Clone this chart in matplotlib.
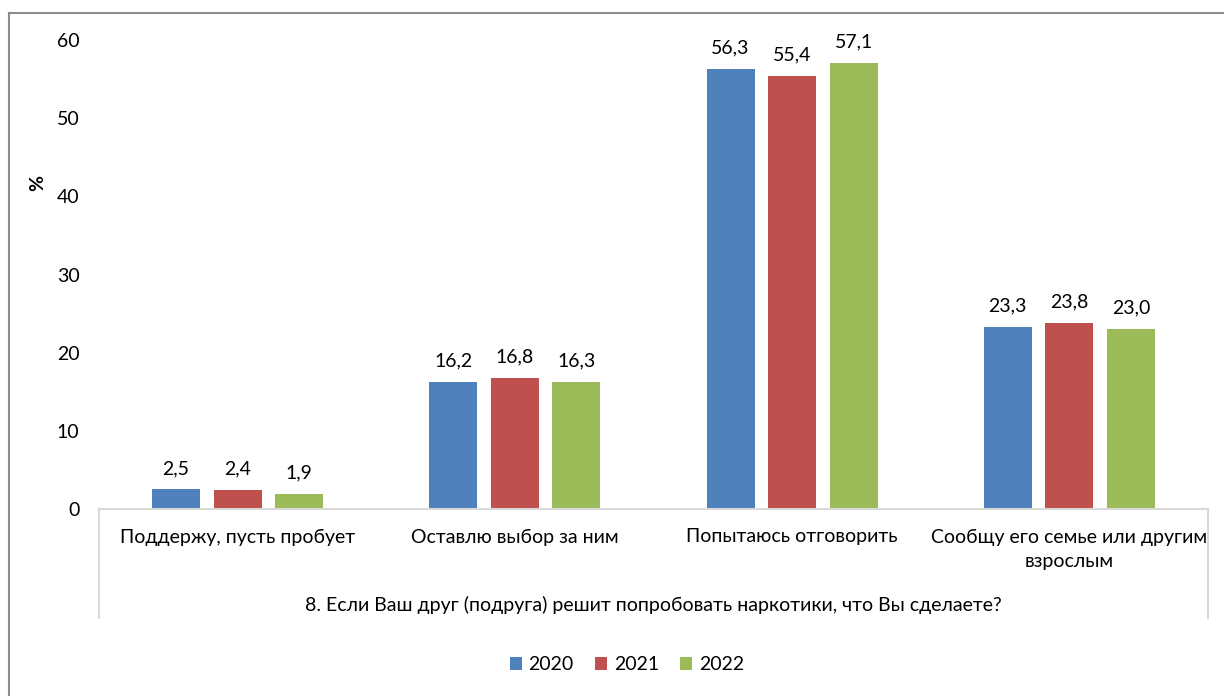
import numpy as np
import matplotlib
matplotlib.use('Agg')
import matplotlib.pyplot as plt
from matplotlib.lines import Line2D

plt.rcParams['font.family'] = ['Lato', 'DejaVu Sans']

# data
categories = ['Поддержу, пусть пробует', 'Оставлю выбор за ним',
              'Попытаюсь отговорить', 'Сообщу его семье или другим\nвзрослым']
years = ['2020', '2021', '2022']
v2020 = [2.5, 16.2, 56.3, 23.3]
v2021 = [2.4, 16.8, 55.4, 23.8]
v2022 = [1.9, 16.3, 57.1, 23.0]
question = '8. Если Ваш друг (подруга) решит попробовать наркотики, что Вы сделаете?'
colors = ['#4F81BD', '#C0504D', '#9BBB59']

W, H = 1224, 696
fs = 14
fig = plt.figure(figsize=(W / 100, H / 100), dpi=100)
ax = fig.add_axes([99 / W, (H - 509) / H, (1208 - 99) / W, (509 - 40) / H])

x = np.arange(len(categories))
bw = 0.173
step = 0.222
for i, (vals, lab) in enumerate(zip([v2020, v2021, v2022], years)):
    pos = x + (i - 1) * step
    ax.bar(pos, vals, bw, color=colors[i], label=lab, zorder=2)
    for p, v in zip(pos, vals):
        ax.annotate(f'{v:.1f}'.replace('.', ','), (p, v), xytext=(0, 9),
                    textcoords='offset points', ha='center', va='bottom', fontsize=fs)

ax.set_xlim(-0.5, 3.5)
ax.set_ylim(0, 60)
ax.set_yticks(range(0, 61, 10))
ax.set_xticks(x)
ax.set_xticklabels(categories, fontsize=fs, linespacing=1.55)
ax.tick_params(axis='y', length=0, pad=14, labelsize=fs)
ax.tick_params(axis='x', length=0, pad=14)

for s in ['top', 'right', 'left']:
    ax.spines[s].set_visible(False)
ax.spines['bottom'].set_color('#d9d9d9')
ax.spines['bottom'].set_linewidth(1.5)

# box of the category axis
lo = (509 - 618) / 469
for xx in [0, 1]:
    ax.plot([xx, xx], [0, lo], transform=ax.transAxes, clip_on=False,
            color='#d9d9d9', lw=1.5)
ax.text(0.5, (509 - 605) / 469, question, transform=ax.transAxes,
        ha='center', va='center', fontsize=fs)

ax.set_ylabel('%', fontsize=fs, fontweight='bold')
ax.yaxis.set_label_coords((46 - 99) / 1109, (509 - 183) / 469)

fig.legend(loc='center', bbox_to_anchor=(627 / W, (H - 665) / H), ncol=3,
           frameon=False, fontsize=fs, handlelength=0.6, handleheight=0.6,
           handletextpad=0.35, columnspacing=1.1)

# outer chart border
fig.add_artist(Line2D([9 / W, 9 / W], [0, (H - 13) / H], color='#8c8c8c', lw=1.5))
fig.add_artist(Line2D([9 / W, 1], [(H - 13) / H, (H - 13) / H], color='#8c8c8c', lw=1.5))

fig.savefig('out.png', dpi=100)
